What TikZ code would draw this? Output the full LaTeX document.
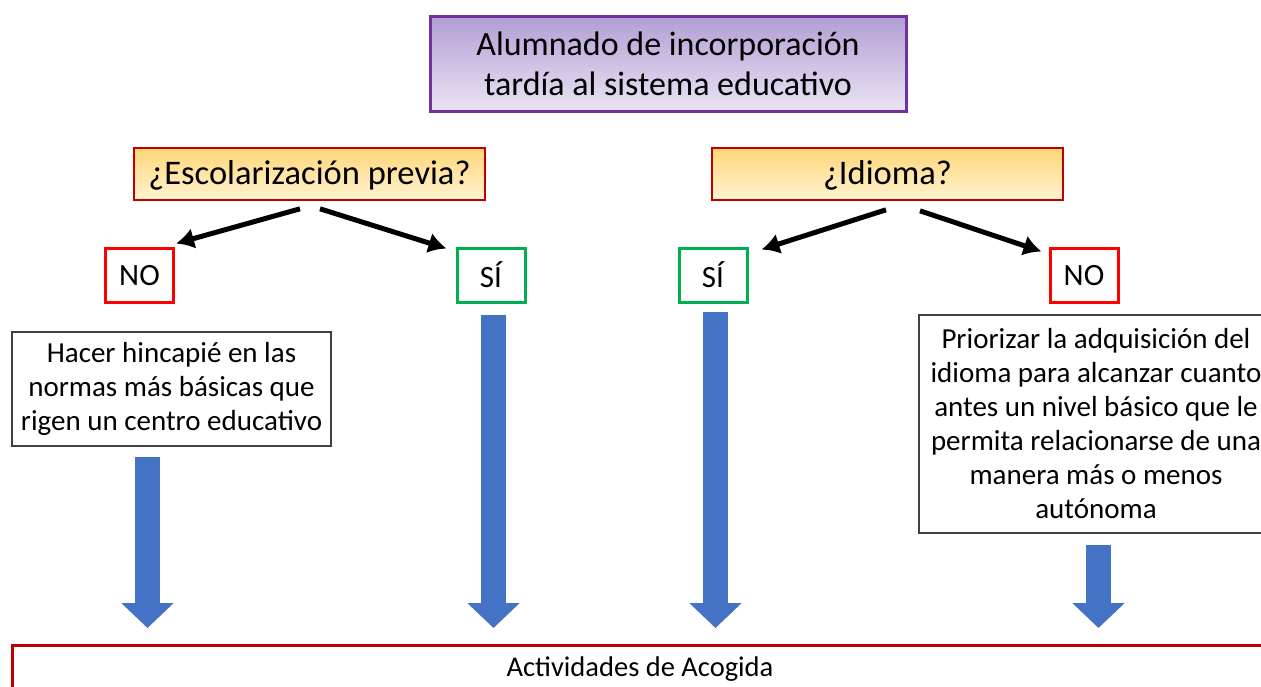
\documentclass[tikz,border=0pt]{standalone}
\usepackage{fontspec}
\setmainfont{Carlito}
\usetikzlibrary{arrows.meta}

\definecolor{morado}{RGB}{112,48,160}
\definecolor{moradoarriba}{RGB}{178,158,212}
\definecolor{moradoabajo}{RGB}{234,228,244}
\definecolor{rojooscuro}{RGB}{192,0,0}
\definecolor{amarilloarriba}{RGB}{255,214,120}
\definecolor{amarilloabajo}{RGB}{255,243,210}
\definecolor{rojo}{RGB}{255,0,0}
\definecolor{verde}{RGB}{0,176,80}
\definecolor{azul}{RGB}{68,114,196}

\tikzset{
	titulo/.style = {draw=morado, line width=3pt, top color=moradoarriba, bottom color=moradoabajo,
		minimum width=476pt, minimum height=95pt, inner sep=0pt, align=center,
		font=\fontsize{34}{40}\selectfont},
	pregunta/.style = {draw=rojooscuro, line width=1.6pt, top color=amarilloarriba, bottom color=amarilloabajo,
		minimum width=351pt, minimum height=52pt, inner sep=0pt, text depth=2pt,
		font=\fontsize{34.5}{38}\selectfont},
	respuesta/.style = {line width=3pt, fill=white, minimum width=68pt, minimum height=54pt,
		inner sep=0pt, text depth=-2pt, font=\fontsize{31}{36}\selectfont},
	texto/.style = {draw=black!75, line width=1.2pt, fill=white, inner sep=0pt, align=center,
		font=\fontsize{29}{34}\selectfont},
	decision/.style = {line width=5pt, arrows={-Latex[length=18pt,width=21pt]}},
	flecha/.style = {azul, line width=25pt, arrows={-Triangle[length=25pt,width=51pt]}}
}

\begin{document}
\begin{tikzpicture}[x=1pt, y=-1pt]
	\useasboundingbox (0,0) rectangle (1261,686);
	\clip (0,0) rectangle (1261,686);

	% cabecera
	\node [titulo] (alumnado) at (668,63.5) {Alumnado de incorporación\\tardía al sistema educativo};

	% preguntas
	\node [pregunta] (escolar) at (309.5,174) {¿Escolarización previa?};
	\node [pregunta] (idioma) at (887.5,174) {¿Idioma?};

	% respuestas
	\node [respuesta, draw=rojo] (noA) at (139.5,275) {NO};
	\node [respuesta, draw=verde] (siA) at (491,275) {SÍ};
	\node [respuesta, draw=verde] (siB) at (713,275) {SÍ};
	\node [respuesta, draw=rojo] (noB) at (1084,275) {NO};

	\draw [decision] ([xshift=-9.5pt,yshift=-8pt]escolar.south) -- ([xshift=1pt,yshift=3pt]noA.north east);
	\draw [decision] ([xshift=10.5pt,yshift=-8pt]escolar.south) -- ([xshift=-9pt,yshift=-2pt]siA.north west);
	\draw [decision] ([xshift=-1.5pt,yshift=-9pt]idioma.south) -- ([xshift=13pt,yshift=-3pt]siB.north east);
	\draw [decision] ([xshift=32.5pt,yshift=-10pt]idioma.south) -- ([xshift=-7pt,yshift=-5pt]noB.north west);

	% cuadros de texto
	\node [texto, minimum width=319pt, minimum height=114pt] (hincapie) at (171.5,389)
		{Hacer hincapié en las\\normas más básicas que\\rigen un centro educativo};
	\node [texto, minimum width=354pt, minimum height=218pt] (priorizar) at (1096,424)
		{Priorizar la adquisición del\\idioma para alcanzar cuanto\\antes un nivel básico que le\\permita relacionarse de una\\manera más o menos\\autónoma};

	% flechas azules
	\foreach \x/\arriba in {147.5/457, 493.5/315, 715.5/312, 1098.5/545}
		\draw [flecha] (\x,\arriba) -- (\x,628);

	% actividades
	\draw [rojooscuro, line width=3pt] (1300,645) -- (12,645) -- (12,700);
	\node [font=\fontsize{28.5}{32}\selectfont] (acogida) at (640,669) {Actividades de Acogida};
\end{tikzpicture}
\end{document}
